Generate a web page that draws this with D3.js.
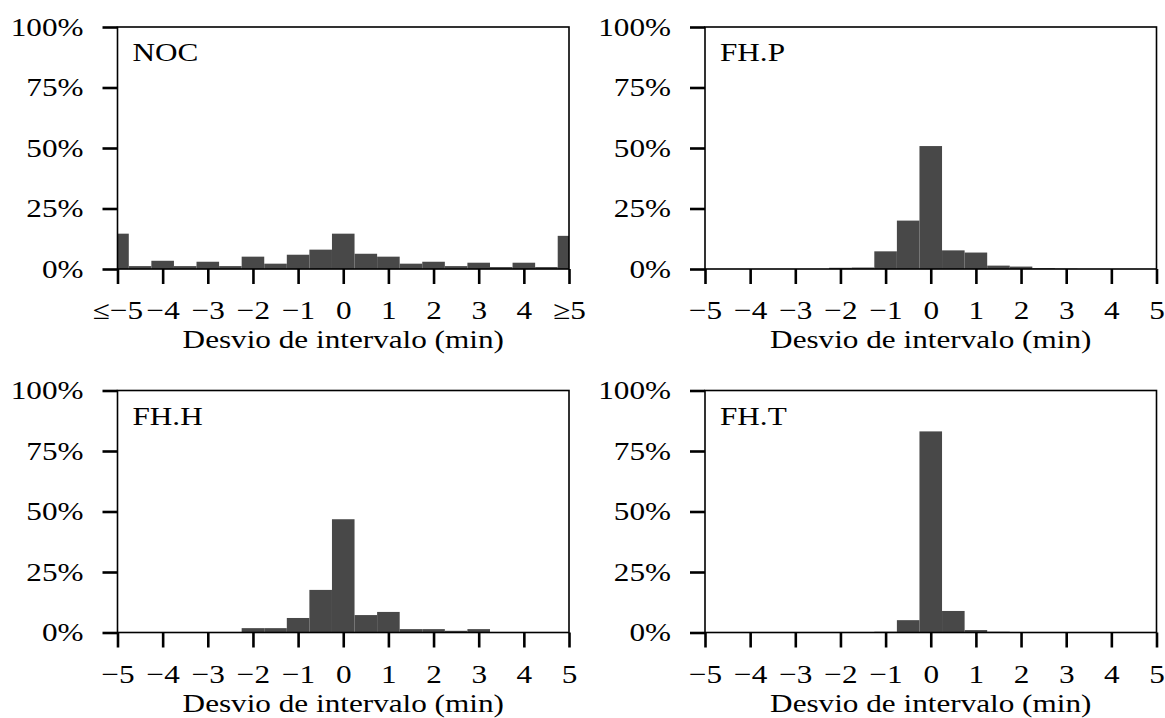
<!DOCTYPE html>
<html>
<head>
<meta charset="utf-8">
<script src="https://cdn.jsdelivr.net/npm/d3@7"></script>
<style>
  html, body { margin: 0; padding: 0; background: #fff; }
  svg { display: block; }
  text { font-family: "Liberation Serif", "Times New Roman", serif; fill: #000; }
</style>
</head>
<body>
<svg id="chart" width="1165" height="718"></svg>
<script>
// Bin centres of the interval-deviation histogram (minutes); bins are 0.5 min wide,
// the outermost bins are clipped at ±5.
const binCenters = [-5, -4.5, -4, -3.5, -3, -2.5, -2, -1.5, -1, -0.5, 0,
                    0.5, 1, 1.5, 2, 2.5, 3, 3.5, 4, 4.5, 5];

// Share of intervals in each bin (%) per control strategy
const nocShare = [14.6, 1.2, 3.4, 1.2, 3.0, 1.2, 5.1, 2.2, 5.9, 8.0, 14.6,
                  6.3, 5.1, 2.2, 3.0, 1.2, 2.6, 0.8, 2.6, 0.8, 13.7];
const fhpShare = [0, 0, 0, 0, 0, 0, 0.5, 0.6, 7.3, 20.0, 50.8,
                  7.7, 6.8, 1.4, 1.0, 0.3, 0.1, 0, 0, 0, 0];
const fhhShare = [0, 0, 0, 0, 0, 0.2, 1.8, 1.8, 6.0, 17.6, 46.8,
                  7.2, 8.5, 1.4, 1.4, 0.7, 1.4, 0, 0, 0, 0];
const fhtShare = [0, 0, 0, 0, 0, 0, 0, 0, 0.3, 5.1, 83.1,
                  8.9, 1.0, 0.3, 0, 0, 0, 0, 0, 0, 0];

const panelNames = ["NOC", "FH.P", "FH.H", "FH.T"];

// Axis ticks and their labels
const xTickValues = [-5, -4, -3, -2, -1, 0, 1, 2, 3, 4, 5];
const xTickLabelsOpen = ["≤−5", "−4", "−3", "−2", "−1", "0", "1", "2", "3", "4", "≥5"];
const xTickLabels = ["−5", "−4", "−3", "−2", "−1", "0", "1", "2", "3", "4", "5"];
const yTickValues = [0, 25, 50, 75, 100];
const yTickLabels = ["0%", "25%", "50%", "75%", "100%"];
const xAxisTitle = "Desvio de intervalo (min)";

const series = [nocShare, fhpShare, fhhShare, fhtShare];
const tickLabelSets = [xTickLabelsOpen, xTickLabels, xTickLabels, xTickLabels];

// Layout
const panelLeft = [117.5, 705];
const panelTop = [27, 390.5];
const panelW = 451.5;
const panelH = 242;
const FS = 26;      // font size
const SX = 1.2;     // horizontal glyph stretch
const BAR = "#484848";

const svg = d3.select("#chart");

function stretch(sel) {
  sel.each(function () {
    const t = d3.select(this);
    const x = +t.attr("x") || 0;
    t.attr("x", 0).attr("transform", `translate(${x},0) scale(${SX},1)`);
  });
}

series.forEach((vals, p) => {
  const col = p % 2, row = Math.floor(p / 2);
  const g = svg.append("g")
    .attr("transform", `translate(${panelLeft[col]},${panelTop[row]})`);

  const x = d3.scaleLinear().domain([-5, 5]).range([0, panelW]);
  const y = d3.scaleLinear().domain([0, 100]).range([panelH, 0]);

  // histogram bars
  g.selectAll("rect.bar")
    .data(binCenters.map((c, i) => ({ c, v: vals[i] })))
    .join("rect")
    .attr("class", "bar")
    .attr("x", d => x(Math.max(-5, d.c - 0.25)))
    .attr("width", d => x(Math.min(5, d.c + 0.25)) - x(Math.max(-5, d.c - 0.25)))
    .attr("y", d => y(d.v))
    .attr("height", d => y(0) - y(d.v))
    .attr("fill", BAR);

  // y axis
  const ya = g.append("g")
    .call(d3.axisLeft(y).tickValues(yTickValues)
      .tickFormat((d, i) => yTickLabels[i]).tickSize(15).tickPadding(19));
  ya.select(".domain").remove();
  ya.selectAll(".tick line").attr("stroke", "#000").attr("stroke-width", 2.6);
  ya.selectAll(".tick text").attr("font-size", FS).attr("font-family", null).call(stretch);

  // x axis
  const xa = g.append("g")
    .attr("transform", `translate(0,${panelH})`)
    .call(d3.axisBottom(x).tickValues(xTickValues)
      .tickFormat((d, i) => tickLabelSets[p][i]).tickSize(15).tickPadding(17));
  xa.select(".domain").remove();
  xa.selectAll(".tick line").attr("stroke", "#000").attr("stroke-width", 2.6);
  xa.selectAll(".tick text").attr("font-size", FS).attr("font-family", null).call(stretch);

  // frame
  g.append("rect")
    .attr("x", 0).attr("y", 0)
    .attr("width", panelW).attr("height", panelH)
    .attr("fill", "none").attr("stroke", "#000").attr("stroke-width", 1.6);

  // panel label
  g.append("text")
    .attr("font-size", FS)
    .attr("transform", `translate(15,34) scale(${SX},1)`)
    .text(panelNames[p]);

  // x axis title
  g.append("text")
    .attr("font-size", FS)
    .attr("text-anchor", "middle")
    .attr("transform", `translate(${panelW / 2},${panelH + 79}) scale(${SX},1)`)
    .text(xAxisTitle);
});
</script>
</body>
</html>
